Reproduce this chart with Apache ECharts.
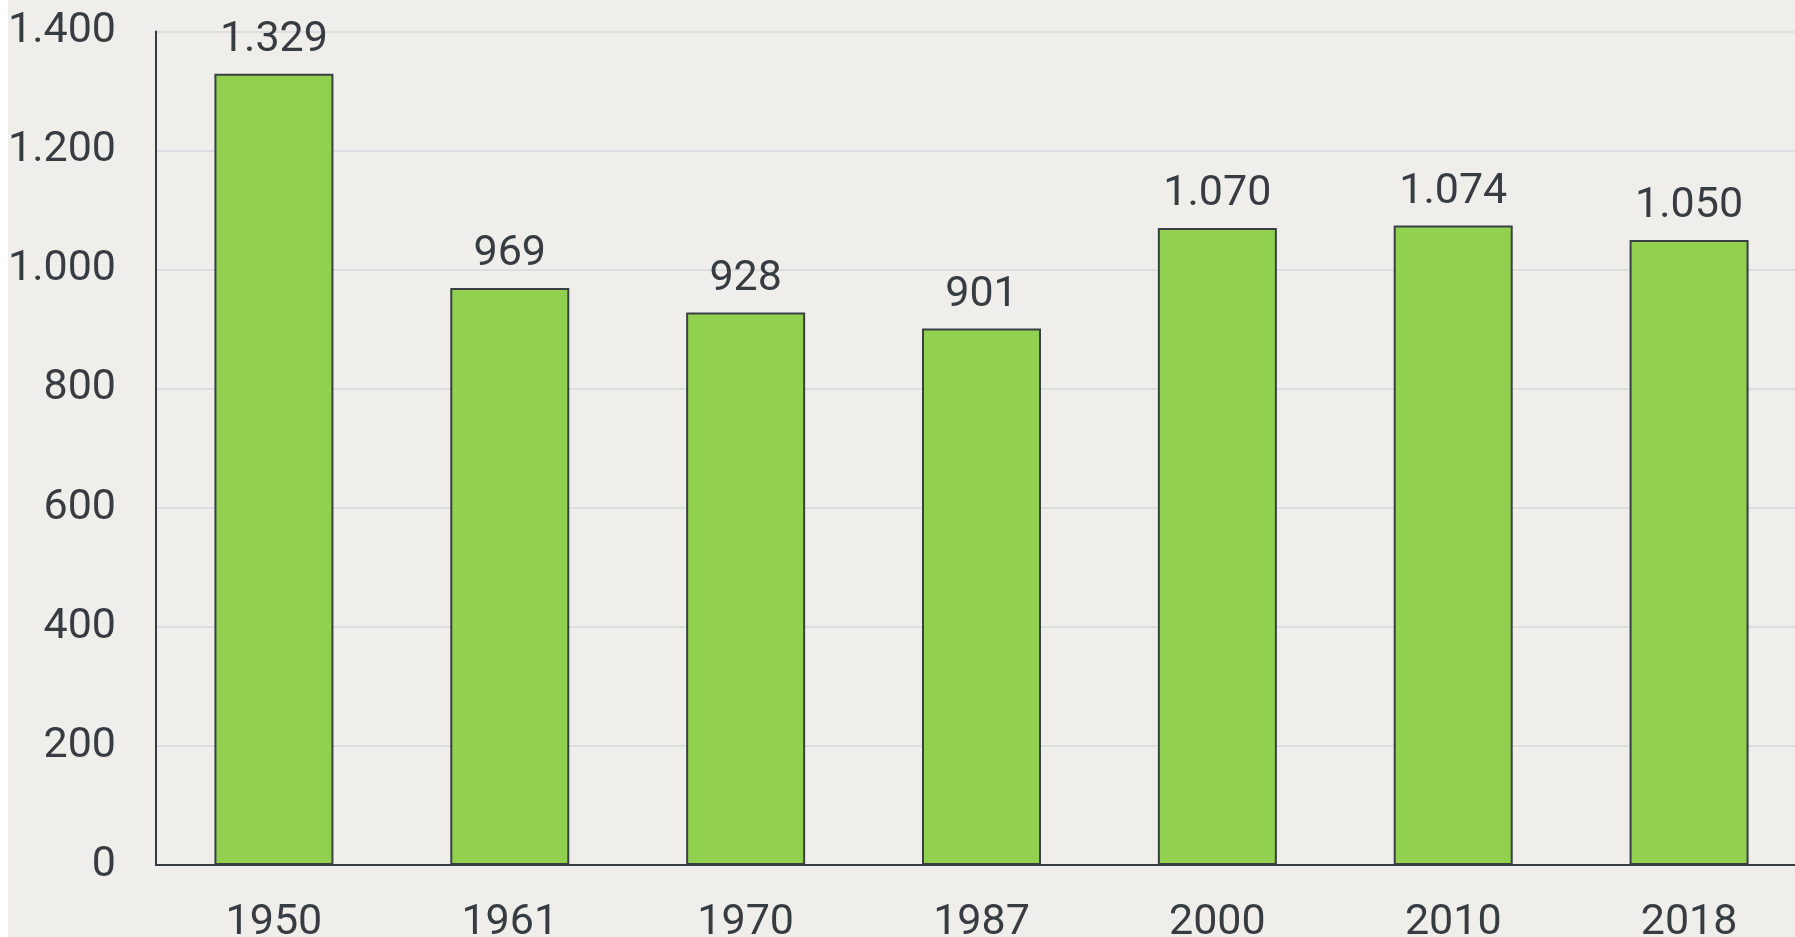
<!DOCTYPE html>
<html>
<head>
<meta charset="utf-8">
<script src="https://cdn.jsdelivr.net/npm/echarts@6/dist/echarts.min.js"></script>
<style>
html,body{margin:0;padding:0;background:#ffffff;}
#c{position:absolute;left:8px;top:0;width:1787px;height:937px;background:#efeeea;}
</style>
</head>
<body>
<div id="c"></div>
<script>
const categories = ['1950','1961','1970','1987','2000','2010','2018'];
const values = [1329, 969, 928, 901, 1070, 1074, 1050];
const yTicks = {min: 0, max: 1400, interval: 200};

function fmt(v){
  return String(v).replace(/\B(?=(\d{3})+(?!\d))/g, '.');
}
const textColor = '#373c42';
const chart = echarts.init(document.getElementById('c'));
chart.setOption({
  backgroundColor: '#efeeea',
  animation: false,
  grid: {left: 148, top: 31.5, width: 1651, height: 833.5, outerBoundsMode: 'none', containLabel: false},
  xAxis: {
    type: 'category',
    data: categories,
    axisLine: {lineStyle: {color: textColor, width: 2}},
    axisTick: {show: false},
    axisLabel: {color: textColor, fontFamily: 'Roboto', fontSize: 43, margin: 37}
  },
  yAxis: {
    type: 'value',
    min: yTicks.min, max: yTicks.max, interval: yTicks.interval,
    axisLine: {show: true, lineStyle: {color: textColor, width: 2}},
    axisTick: {show: false},
    splitLine: {lineStyle: {color: '#dcdde0', width: 2}},
    axisLabel: {color: textColor, fontFamily: 'Roboto', fontSize: 43, margin: 40, formatter: fmt}
  },
  series: [{
    type: 'bar',
    data: values,
    barWidth: 119,
    itemStyle: {color: '#92d050', borderColor: '#3a3f45', borderWidth: 2},
    label: {show: true, position: 'top', distance: 12, color: textColor, fontFamily: 'Roboto', fontSize: 43, formatter: p => fmt(p.value)}
  }]
});
</script>
</body>
</html>
